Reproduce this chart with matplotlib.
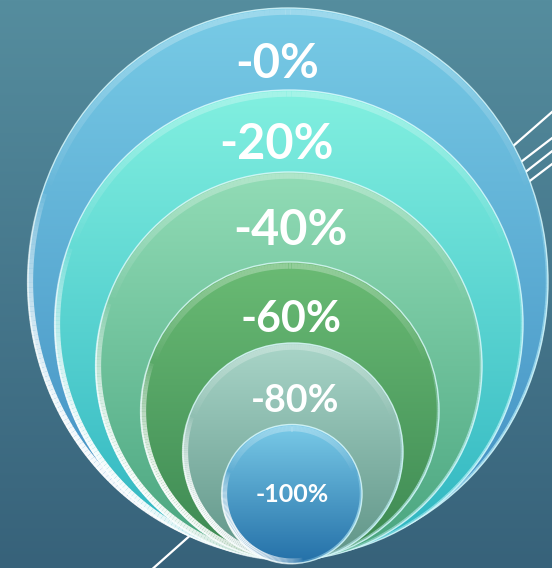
import numpy as np
import matplotlib
matplotlib.use("Agg")
import matplotlib.pyplot as plt
from matplotlib.patches import Ellipse
from matplotlib.collections import LineCollection
from matplotlib.colors import LinearSegmentedColormap, to_rgba

# data: labels and their nested circle sizes (pixels)
labels = ["-0%", "-20%", "-40%", "-60%", "-80%", "-100%"]
centers_x = [288, 289, 289, 290, 293, 292]
centers_y = [282, 324, 366, 411, 452, 494]
widths = [520, 468, 386, 298, 220, 140]
heights = [548, 468, 388, 298, 218, 139]
top_colors = ["#78cbe6", "#82f0e0", "#92dcb6", "#6abb74", "#a9d5c8", "#7acbe8"]
bot_colors = ["#3f8cc0", "#2db4c0", "#48a47e", "#3c8852", "#5f9487", "#2470a8"]
text_x = [277, 277, 290, 291, 295, 292]
text_base = [78, 159, 245, 332, 412, 502]
text_size = [34, 35, 35, 31, 27, 18]

W, H = 552, 568
fig = plt.figure(figsize=(W / 100, H / 100), dpi=100)
ax = fig.add_axes([0, 0, 1, 1])
ax.set_xlim(0, W)
ax.set_ylim(H, 0)
ax.axis("off")

# background gradient
bg = LinearSegmentedColormap.from_list("bg", ["#558d9e", "#37627a"])
ax.imshow(np.linspace(0, 1, 256).reshape(-1, 1), cmap=bg, aspect="auto",
          extent=(0, W, H, 0), zorder=0)

# decorative white lines behind the circles
deco = [((480, 175), (560, 105)), ((500, 178), (560, 132)),
        ((505, 188), (560, 145)), ((510, 196), (560, 158)),
        ((140, 580), (230, 500))]
for (x0, y0), (x1, y1) in deco:
    ax.plot([x0, x1], [y0, y1], color="white", lw=1.6, zorder=1)


def rim(cx, cy, w, h, t0, t1, color, lw, peak, z):
    # arc whose alpha fades in and out along its length
    t = np.radians(np.linspace(t0, t1, 120))
    x = cx + (w / 2) * np.cos(t)
    y = cy + (h / 2) * np.sin(t)
    pts = np.column_stack([x, y]).reshape(-1, 1, 2)
    segs = np.concatenate([pts[:-1], pts[1:]], axis=1)
    a = peak * np.sin(np.linspace(0, np.pi, len(segs))) ** 0.7
    cols = [to_rgba(color, ai) for ai in a]
    ax.add_collection(LineCollection(segs, colors=cols, linewidths=lw, zorder=z,
                                     capstyle="butt", antialiased=True))


grad = np.linspace(0, 1, 256).reshape(-1, 1)
for i in range(len(labels)):
    cx, cy, w, h = centers_x[i], centers_y[i], widths[i], heights[i]
    z = 2 + i * 5
    clip = Ellipse((cx, cy), w, h, facecolor="none", edgecolor="none")
    ax.add_patch(clip)
    cmap = LinearSegmentedColormap.from_list("c%d" % i, [top_colors[i], bot_colors[i]])
    im = ax.imshow(grad, cmap=cmap, aspect="auto",
                   extent=(cx - w / 2, cx + w / 2, cy + h / 2, cy - h / 2), zorder=z)
    im.set_clip_path(clip)
    # thin bright outline
    ax.add_patch(Ellipse((cx, cy), w, h, facecolor="none",
                         edgecolor="#dffcff", lw=1.0, alpha=0.8, zorder=z + 1))
    # glossy rim lower-left, softer on the right
    rim(cx, cy, w - 4, h - 4, 80, 200, "white", 4.5, 0.95, z + 1)
    rim(cx, cy, w - 2, h - 2, -20, 85, "#c8f8ff", 1.8, 0.6, z + 1)
    # top highlight
    rim(cx, cy, w - 8, h - 8, 200, 340, "white", 4, 0.28, z + 1)
    ax.text(text_x[i], text_base[i], labels[i], color="white", fontsize=text_size[i],
            fontweight="bold", family=["Lato", "DejaVu Sans"],
            ha="center", va="baseline", zorder=z + 2)

fig.savefig("out.png", dpi=100)
